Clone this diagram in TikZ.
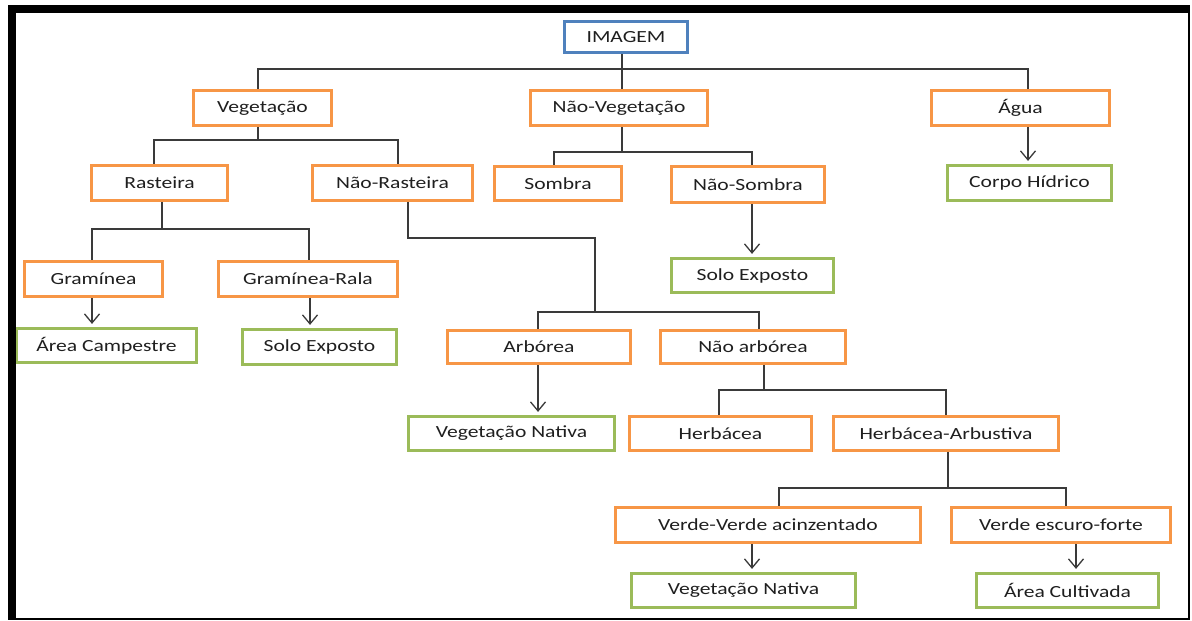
\documentclass[tikz,border=0pt]{standalone}
\usepackage{fontspec}
\setmainfont{Carlito}[FakeStretch=1.27]
\usetikzlibrary{arrows.meta}
\definecolor{orng}{HTML}{F79646}
\definecolor{grn}{HTML}{9BBB59}
\definecolor{blu}{HTML}{4F81BD}
\definecolor{lin}{HTML}{3A3A3A}
\begin{document}
\begin{tikzpicture}[x=1pt,y=-1pt,
  box/.style={draw=orng,line width=3.2pt,minimum height=35pt,inner sep=0pt,
    font=\fontsize{17}{20}\selectfont,text=black!88},
  gbox/.style={box,draw=grn},
  bbox/.style={box,draw=blu,minimum height=31pt},
  conn/.style={draw=lin,line width=1.3pt},
  arr/.style={conn,-{Straight Barb[length=9pt,width=15pt,line width=1.3pt]},shorten >=3pt}]
\useasboundingbox (0,0) rectangle (1192,621);
\fill[white] (0,0) rectangle (1192,621);

% nodes
\node[bbox,minimum width=123pt] (img) at (626,37) {IMAGEM};
\node[box,minimum width=138pt] (veg) at (262.5,108) {Vegetação};
\node[box,minimum width=177pt] (nveg) at (619,108) {Não-Vegetação};
\node[box,minimum width=178pt] (agua) at (1020.5,108) {Água};
\node[box,minimum width=136pt] (rast) at (159.5,183) {Rasteira};
\node[box,minimum width=160pt] (nrast) at (392.5,183) {Não-Rasteira};
\node[box,minimum width=127pt,minimum height=34pt] (sombra) at (558,183.5) {Sombra};
\node[box,minimum width=153pt,minimum height=36pt] (nsomb) at (748,184.5) {Não-Sombra};
\node[gbox,minimum width=164pt] (corpo) at (1029.5,183) {Corpo Hídrico};
\node[box,minimum width=138pt] (gram) at (93.5,279) {Gramínea};
\node[box,minimum width=179pt] (gramr) at (308,279) {Gramínea-Rala};
\node[gbox,minimum width=162pt,minimum height=34pt] (solo2) at (752.5,275.5) {Solo Exposto};
\node[gbox,minimum width=180pt,minimum height=34pt] (campe) at (106.5,345.5) {Área Campestre};
\node[gbox,minimum width=154pt] (solo1) at (319.5,347) {Solo Exposto};
\node[box,minimum width=183pt,minimum height=33pt] (arb) at (539,347) {Arbórea};
\node[box,minimum width=185pt,minimum height=33pt] (narb) at (753,347) {Não arbórea};
\node[gbox,minimum width=206pt,minimum height=34pt] (vn1) at (511.5,433.5) {Vegetação Nativa};
\node[box,minimum width=182pt,minimum height=34pt] (herb) at (720.5,433.5) {Herbácea};
\node[box,minimum width=225pt,minimum height=34pt] (harb) at (946,433.5) {Herbácea-Arbustiva};
\node[box,minimum width=305pt] (vva) at (768,525) {Verde-Verde acinzentado};
\node[box,minimum width=219pt] (vef) at (1061,525) {Verde escuro-forte};
\node[gbox,minimum width=224pt,minimum height=34pt] (vn2) at (743.5,590.5) {Vegetação Nativa};
\node[gbox,minimum width=182pt,minimum height=34pt] (cult) at (1067.5,590.5) {Área Cultivada};

% junctions
\coordinate (j1) at (622,69);
\coordinate (j2) at (258,140);
\coordinate (j3) at (622,152);
\coordinate (j4) at (162,229);
\coordinate (k1) at (595,238);
\coordinate (j5) at (595,312);
\coordinate (j6) at (764,390);
\coordinate (j7) at (948,488);

% connectors
\draw[conn] ([xshift=-4]img.south) -- (j1);
\draw[conn] (j1) -| ([xshift=-4.5]veg.north);
\draw[conn] (j1) -| ([xshift=3]nveg.north);
\draw[conn] (j1) -| ([xshift=7.5]agua.north);

\draw[conn] ([xshift=-4.5]veg.south) -- (j2);
\draw[conn] (j2) -| ([xshift=-5.5]rast.north);
\draw[conn] (j2) -| ([xshift=5.5]nrast.north);

\draw[conn] ([xshift=3]nveg.south) -- (j3);
\draw[conn] (j3) -| ([xshift=-4]sombra.north);
\draw[conn] (j3) -| ([xshift=4]nsomb.north);

\draw[arr] ([xshift=7.5]agua.south) -- ([xshift=-1.5]corpo.north);

\draw[conn] ([xshift=2.5]rast.south) -- (j4);
\draw[conn] (j4) -| ([xshift=-1.5]gram.north);
\draw[conn] (j4) -| ([xshift=1]gramr.north);

\draw[arr] ([xshift=-1.5]gram.south) -- ([xshift=-14.5]campe.north);
\draw[arr] ([xshift=2]gramr.south) -- ([xshift=-9.5]solo1.north);
\draw[arr] ([xshift=4]nsomb.south) -- ([xshift=-0.5]solo2.north);

\draw[conn] ([xshift=15.5]nrast.south) |- (k1) -- (j5);
\draw[conn] (j5) -| ([xshift=-1]arb.north);
\draw[conn] (j5) -| ([xshift=6]narb.north);

\draw[arr] ([xshift=-1]arb.south) -- ([xshift=26.5]vn1.north);

\draw[conn] ([xshift=11]narb.south) -- (j6);
\draw[conn] (j6) -| ([xshift=-1.5]herb.north);
\draw[conn] (j6) -| ([xshift=0]harb.north);

\draw[conn] ([xshift=2]harb.south) -- (j7);
\draw[conn] (j7) -| ([xshift=11]vva.north);
\draw[conn] (j7) -| ([xshift=5]vef.north);

\draw[arr] ([xshift=-16]vva.south) -- ([xshift=8.5]vn2.north);
\draw[arr] ([xshift=15]vef.south) -- ([xshift=8.5]cult.north);

% frame
\fill[black] (8,5) rectangle (1190,13);
\fill[black] (8,5) rectangle (16,620);
\fill[black] (1188,5) rectangle (1190,620);
\fill[black] (8,618) rectangle (1190,620);
\end{tikzpicture}
\end{document}
